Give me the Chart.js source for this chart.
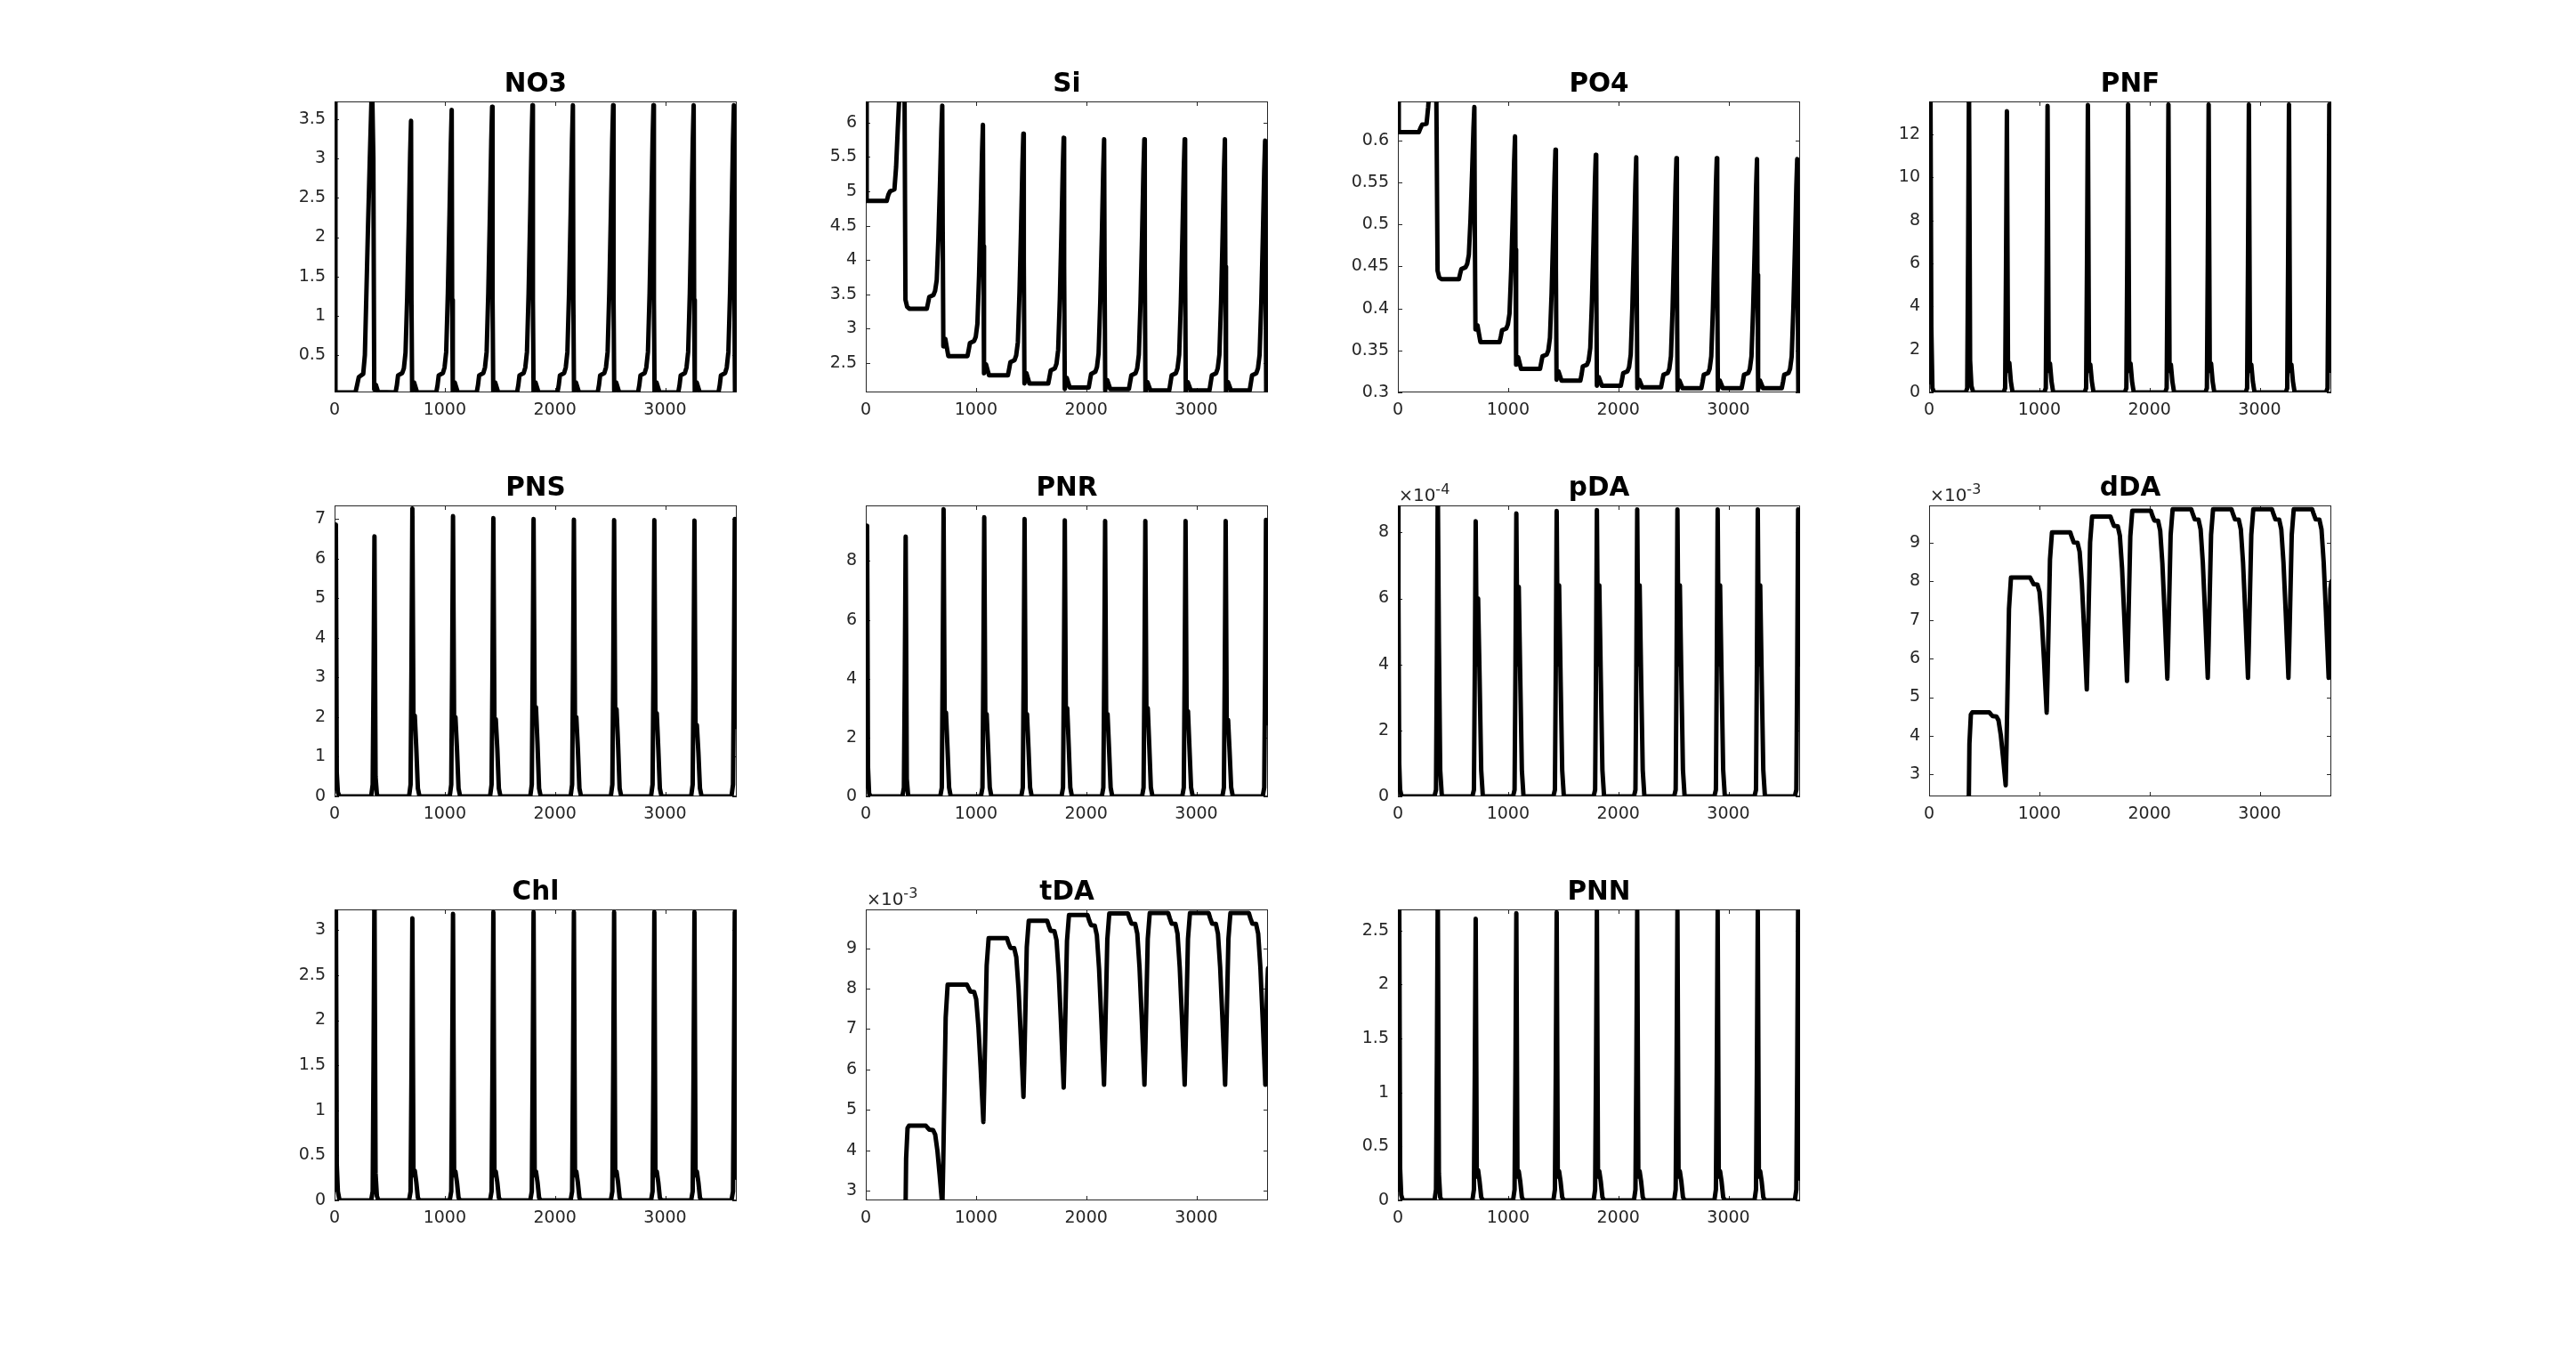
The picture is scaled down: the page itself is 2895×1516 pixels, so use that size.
<!DOCTYPE html>
<html><head><meta charset="utf-8">
<script src="https://cdn.jsdelivr.net/npm/chart.js@4.4.1/dist/chart.umd.min.js"></script>
<style>
html,body{margin:0;padding:0;background:#fff;}
body{width:2895px;height:1516px;position:relative;overflow:hidden;}
canvas{position:absolute;}
</style></head><body>
<script>
// ---------------- DATA ----------------
const xTicks = [0, 1000, 2000, 3000];
const X_MAX = 3650;

// time points (days) for the nutrient panels
const tNut = [
 0, 8, 190, 205, 220, 260, 275, 290, 303, 320, 340, 346, 352, 360, 375, 395,
 554, 566, 576, 614, 629, 644, 659, 674, 686, 694, 698, 704, 712, 722, 749,
 923, 935, 945, 983, 998, 1013, 1028, 1043, 1055, 1063, 1067, 1073, 1081, 1091, 1118,
 1290, 1302, 1312, 1350, 1365, 1380, 1395, 1410, 1422, 1430, 1434, 1440, 1448, 1458, 1485,
 1656, 1668, 1678, 1716, 1731, 1746, 1761, 1776, 1788, 1796, 1800, 1806, 1814, 1824, 1851,
 2023, 2035, 2045, 2083, 2098, 2113, 2128, 2143, 2155, 2163, 2167, 2173, 2181, 2191, 2218,
 2388, 2400, 2410, 2448, 2463, 2478, 2493, 2508, 2520, 2528, 2532, 2538, 2546, 2556, 2583,
 2754, 2766, 2776, 2814, 2829, 2844, 2859, 2874, 2886, 2894, 2898, 2904, 2912, 2922, 2949,
 3119, 3131, 3141, 3179, 3194, 3209, 3224, 3239, 3251, 3259, 3263, 3269, 3277, 3287, 3314,
 3484, 3496, 3506, 3544, 3559, 3574, 3589, 3604, 3616, 3624, 3628, 3634, 3642, 3650
];
const NO3 = [
 3.8, 0.025, 0.025, 0.12, 0.22, 0.26, 0.5, 1.35, 2.1, 3.0, 4.0, 4.0, 3.0, 0.06, 0.12, 0.03,
 0.025, 0.12, 0.24, 0.27, 0.33, 0.53, 1.23, 2.20, 3.06, 3.48, 1.2, 0.04, 0.1, 0.15, 0.025,
 0.025, 0.12, 0.24, 0.27, 0.34, 0.54, 1.28, 2.28, 3.18, 3.62, 1.2, 0.04, 0.1, 0.15, 0.025,
 0.025, 0.12, 0.24, 0.27, 0.34, 0.54, 1.29, 2.30, 3.22, 3.66, 1.2, 0.04, 0.1, 0.15, 0.025,
 0.025, 0.12, 0.24, 0.27, 0.34, 0.54, 1.29, 2.32, 3.24, 3.68, 1.2, 0.04, 0.1, 0.15, 0.025,
 0.025, 0.12, 0.24, 0.27, 0.34, 0.54, 1.29, 2.32, 3.24, 3.68, 1.2, 0.04, 0.1, 0.15, 0.025,
 0.025, 0.12, 0.24, 0.27, 0.34, 0.54, 1.29, 2.32, 3.24, 3.68, 1.2, 0.04, 0.1, 0.15, 0.025,
 0.025, 0.12, 0.24, 0.27, 0.34, 0.54, 1.29, 2.32, 3.24, 3.68, 1.2, 0.04, 0.1, 0.15, 0.025,
 0.025, 0.12, 0.24, 0.27, 0.34, 0.54, 1.29, 2.32, 3.24, 3.68, 1.2, 0.04, 0.1, 0.15, 0.025,
 0.025, 0.12, 0.24, 0.27, 0.34, 0.54, 1.29, 2.32, 3.24, 3.68, 1.2, 0.04, 0.1, 0.15
];
const Si = [
 6.5, 4.86, 4.86, 4.95, 5.0, 5.03, 5.35, 5.9, 6.35, 7.2, 7.6, 7.3, 6.3, 3.42, 3.32, 3.29,
 3.29, 3.38, 3.46, 3.49, 3.55, 3.71, 4.32, 5.15, 5.89, 6.25, 4.5, 2.74, 2.8, 2.85, 2.6,
 2.6, 2.7, 2.79, 2.82, 2.88, 3.07, 3.77, 4.71, 5.56, 5.97, 4.2, 2.35, 2.42, 2.48, 2.32,
 2.32, 2.42, 2.51, 2.54, 2.61, 2.80, 3.53, 4.52, 5.41, 5.84, 4.0, 2.2, 2.28, 2.35, 2.2,
 2.2, 2.3, 2.39, 2.42, 2.49, 2.69, 3.43, 4.44, 5.34, 5.78, 3.9, 2.12, 2.2, 2.28, 2.14,
 2.14, 2.25, 2.34, 2.37, 2.44, 2.64, 3.39, 4.40, 5.32, 5.76, 3.9, 2.1, 2.18, 2.25, 2.12,
 2.12, 2.23, 2.32, 2.35, 2.42, 2.62, 3.37, 4.40, 5.32, 5.76, 3.9, 2.08, 2.15, 2.22, 2.1,
 2.1, 2.22, 2.32, 2.35, 2.42, 2.62, 3.37, 4.40, 5.32, 5.76, 3.9, 2.08, 2.15, 2.22, 2.1,
 2.1, 2.22, 2.32, 2.35, 2.42, 2.62, 3.37, 4.40, 5.32, 5.76, 3.9, 2.08, 2.15, 2.22, 2.1,
 2.1, 2.22, 2.32, 2.35, 2.42, 2.62, 3.36, 4.38, 5.30, 5.74, 3.9, 2.06, 2.14, 2.22
];
const PO4 = [
 0.66, 0.61, 0.61, 0.615, 0.619, 0.62, 0.64, 0.67, 0.69, 0.72, 0.74, 0.7, 0.6, 0.445, 0.437, 0.435,
 0.435, 0.442, 0.447, 0.449, 0.453, 0.464, 0.506, 0.564, 0.615, 0.640, 0.5, 0.375, 0.378, 0.38, 0.36,
 0.36, 0.367, 0.374, 0.376, 0.381, 0.394, 0.445, 0.513, 0.575, 0.605, 0.47, 0.333, 0.338, 0.342, 0.328,
 0.328, 0.336, 0.343, 0.345, 0.350, 0.365, 0.418, 0.491, 0.557, 0.589, 0.45, 0.315, 0.32, 0.325, 0.314,
 0.314, 0.322, 0.331, 0.333, 0.338, 0.353, 0.408, 0.483, 0.551, 0.583, 0.45, 0.308, 0.313, 0.318, 0.308,
 0.308, 0.316, 0.323, 0.325, 0.330, 0.345, 0.402, 0.478, 0.547, 0.580, 0.44, 0.305, 0.31, 0.315, 0.306,
 0.306, 0.314, 0.321, 0.323, 0.328, 0.343, 0.400, 0.477, 0.546, 0.579, 0.44, 0.303, 0.309, 0.314, 0.305,
 0.305, 0.313, 0.321, 0.323, 0.328, 0.343, 0.400, 0.477, 0.546, 0.579, 0.44, 0.303, 0.309, 0.314, 0.305,
 0.305, 0.313, 0.321, 0.323, 0.328, 0.343, 0.400, 0.476, 0.545, 0.578, 0.44, 0.303, 0.309, 0.314, 0.305,
 0.305, 0.313, 0.321, 0.323, 0.328, 0.343, 0.400, 0.476, 0.545, 0.578, 0.44, 0.299, 0.306, 0.314
];

// time points (days) for the plankton / particulate panels
const tBloom = [
 0, 5, 12, 20, 30, 45,
 332, 346, 354, 362, 372, 384, 398, 412, 427,
 676, 690, 698, 706, 716, 728, 742, 756, 771,
 1045, 1059, 1067, 1075, 1085, 1097, 1111, 1125, 1140,
 1411, 1425, 1433, 1441, 1451, 1463, 1477, 1491, 1506,
 1776, 1790, 1798, 1806, 1816, 1828, 1842, 1856, 1871,
 2142, 2156, 2164, 2172, 2182, 2194, 2208, 2222, 2237,
 2507, 2521, 2529, 2537, 2547, 2559, 2573, 2587, 2602,
 2872, 2886, 2894, 2902, 2912, 2924, 2938, 2952, 2967,
 3236, 3250, 3258, 3266, 3276, 3288, 3302, 3316, 3331,
 3602, 3616, 3624, 3632, 3642, 3650
];
const PNF = [
 0.48, 8, 14.5, 3, 0.2, 0,
 0, 0.2, 6.5, 14.5, 1.5, 0.3, 0.05, 0, 0,
 0, 0.2, 5.9, 13.08, 1.0, 1.38, 0.5, 0.05, 0,
 0, 0.2, 6.0, 13.33, 1.0, 1.35, 0.5, 0.05, 0,
 0, 0.2, 6.0, 13.37, 1.0, 1.3, 0.5, 0.05, 0,
 0, 0.2, 6.0, 13.4, 1.0, 1.35, 0.5, 0.05, 0,
 0, 0.2, 6.0, 13.4, 1.0, 1.3, 0.5, 0.05, 0,
 0, 0.2, 6.0, 13.4, 1.0, 1.35, 0.5, 0.05, 0,
 0, 0.2, 6.0, 13.4, 1.0, 1.3, 0.5, 0.05, 0,
 0, 0.2, 6.0, 13.4, 1.0, 1.3, 0.5, 0.05, 0,
 0, 0.2, 6.0, 13.4, 3.0, 1.0
];
const PNS = [
 0.21, 3.5, 6.86, 0.6, 0.1, 0,
 0, 0.3, 3.0, 6.56, 0.5, 0.05, 0, 0, 0,
 0, 0.3, 3.3, 7.26, 1.8, 2.04, 1.2, 0.2, 0,
 0, 0.3, 3.2, 7.07, 1.8, 2.0, 1.2, 0.2, 0,
 0, 0.3, 3.15, 7.02, 1.7, 1.95, 1.2, 0.2, 0,
 0, 0.3, 3.15, 7.0, 2.0, 2.25, 1.3, 0.2, 0,
 0, 0.3, 3.15, 6.98, 1.8, 2.0, 1.2, 0.2, 0,
 0, 0.3, 3.15, 6.97, 1.9, 2.2, 1.3, 0.2, 0,
 0, 0.3, 3.15, 6.97, 1.8, 2.1, 1.2, 0.2, 0,
 0, 0.3, 3.15, 6.96, 1.6, 1.8, 1.1, 0.2, 0,
 0, 0.3, 3.15, 7.0, 3.5, 1.75
];
const PNR = [
 0.35, 5, 9.2, 1.0, 0.1, 0,
 0, 0.3, 4.0, 8.83, 0.6, 0.05, 0, 0, 0,
 0, 0.3, 4.4, 9.76, 2.4, 2.85, 1.6, 0.3, 0,
 0, 0.3, 4.3, 9.49, 2.4, 2.8, 1.6, 0.3, 0,
 0, 0.3, 4.2, 9.43, 2.4, 2.8, 1.6, 0.3, 0,
 0, 0.3, 4.2, 9.38, 2.6, 3.0, 1.7, 0.3, 0,
 0, 0.3, 4.2, 9.36, 2.4, 2.8, 1.6, 0.3, 0,
 0, 0.3, 4.2, 9.36, 2.6, 3.0, 1.7, 0.3, 0,
 0, 0.3, 4.2, 9.36, 2.5, 2.9, 1.6, 0.3, 0,
 0, 0.3, 4.2, 9.36, 2.2, 2.6, 1.5, 0.3, 0,
 0, 0.3, 4.2, 9.4, 4.5, 2.48
];
// pDA in units of 1e-4
const pDA = [
 9.5, 6, 1.0, 0.2, 0.05, 0,
 0, 0.2, 4.3, 9.5, 4.7, 0.8, 0.05, 0, 0,
 0, 0.2, 3.8, 8.34, 4.0, 6.0, 3.5, 0.8, 0,
 0, 0.2, 3.9, 8.58, 4.0, 6.35, 3.5, 0.8, 0,
 0, 0.2, 3.9, 8.65, 4.0, 6.4, 3.5, 0.8, 0,
 0, 0.2, 3.9, 8.68, 4.0, 6.4, 3.5, 0.8, 0,
 0, 0.2, 3.9, 8.7, 4.0, 6.4, 3.5, 0.8, 0,
 0, 0.2, 3.9, 8.7, 4.0, 6.4, 3.5, 0.8, 0,
 0, 0.2, 3.9, 8.7, 4.0, 6.4, 3.5, 0.8, 0,
 0, 0.2, 3.9, 8.7, 4.0, 6.4, 3.5, 0.8, 0,
 0, 0.2, 3.9, 8.7, 4.0, 5.3
];
const Chl = [
 0.12, 2.0, 3.5, 0.4, 0.1, 0,
 0, 0.1, 1.6, 3.5, 0.3, 0.05, 0, 0, 0,
 0, 0.1, 1.4, 3.13, 0.28, 0.33, 0.2, 0.03, 0,
 0, 0.1, 1.45, 3.18, 0.28, 0.32, 0.2, 0.03, 0,
 0, 0.1, 1.45, 3.2, 0.28, 0.32, 0.2, 0.03, 0,
 0, 0.1, 1.45, 3.2, 0.28, 0.32, 0.2, 0.03, 0,
 0, 0.1, 1.45, 3.2, 0.28, 0.32, 0.2, 0.03, 0,
 0, 0.1, 1.45, 3.2, 0.28, 0.32, 0.2, 0.03, 0,
 0, 0.1, 1.45, 3.2, 0.28, 0.32, 0.2, 0.03, 0,
 0, 0.1, 1.45, 3.2, 0.28, 0.32, 0.2, 0.03, 0,
 0, 0.1, 1.45, 3.2, 1.0, 0.25
];
const PNN = [
 0.1, 1.5, 2.9, 0.3, 0.05, 0,
 0, 0.1, 1.3, 2.9, 0.25, 0.03, 0, 0, 0,
 0, 0.1, 1.17, 2.61, 0.22, 0.28, 0.17, 0.03, 0,
 0, 0.1, 1.2, 2.66, 0.22, 0.27, 0.17, 0.03, 0,
 0, 0.1, 1.2, 2.67, 0.22, 0.27, 0.17, 0.03, 0,
 0, 0.1, 1.2, 2.68, 0.22, 0.27, 0.17, 0.03, 0,
 0, 0.1, 1.2, 2.68, 0.22, 0.27, 0.17, 0.03, 0,
 0, 0.1, 1.2, 2.68, 0.22, 0.27, 0.17, 0.03, 0,
 0, 0.1, 1.2, 2.68, 0.22, 0.27, 0.17, 0.03, 0,
 0, 0.1, 1.2, 2.68, 0.22, 0.27, 0.17, 0.03, 0,
 0, 0.1, 1.2, 2.68, 0.8, 0.2
];

// time points (days) for the dissolved / total domoic acid panels
const tTox = [
 0, 355, 366, 379, 392,
 545, 560, 577, 611, 630, 650, 670, 685, 695, 703, 713, 725, 743,
 917, 932, 949, 983, 1002, 1022, 1042, 1057, 1067, 1075, 1085, 1097, 1115,
 1281, 1296, 1313, 1347, 1366, 1386, 1406, 1421, 1431, 1439, 1449, 1461, 1479,
 1646, 1661, 1678, 1712, 1731, 1751, 1771, 1786, 1796, 1804, 1814, 1826, 1844,
 2012, 2027, 2044, 2078, 2097, 2117, 2137, 2152, 2162, 2170, 2180, 2192, 2210,
 2379, 2394, 2411, 2445, 2464, 2484, 2504, 2519, 2529, 2537, 2547, 2559, 2577,
 2744, 2759, 2776, 2810, 2829, 2849, 2869, 2884, 2894, 2902, 2912, 2924, 2942,
 3111, 3126, 3143, 3177, 3196, 3216, 3236, 3251, 3261, 3269, 3279, 3291, 3309,
 3476, 3491, 3508, 3542, 3561, 3581, 3601, 3616, 3626, 3634, 3642, 3650
];
// dDA and tDA in units of 1e-3
const dDA = [
 0, 1.0, 3.8, 4.55, 4.61,
 4.61, 4.56, 4.51, 4.50, 4.40, 4.03, 3.47, 3.02, 2.72, 3.80, 5.41, 7.29, 8.1,
 8.1, 8.02, 7.93, 7.92, 7.73, 7.03, 6.0, 5.17, 4.6, 5.53, 6.94, 8.57, 9.27,
 9.27, 9.14, 9.01, 9.0, 8.77, 7.97, 6.80, 5.85, 5.2, 6.10, 7.44, 9.01, 9.68,
 9.68, 9.56, 9.44, 9.43, 9.19, 8.35, 7.10, 6.10, 5.42, 6.30, 7.63, 9.17, 9.83,
 9.83, 9.7, 9.58, 9.57, 9.32, 8.47, 7.20, 6.18, 5.48, 6.36, 7.68, 9.21, 9.87,
 9.87, 9.74, 9.61, 9.6, 9.35, 8.49, 7.22, 6.20, 5.5, 6.37, 7.69, 9.21, 9.87,
 9.87, 9.74, 9.61, 9.6, 9.35, 8.49, 7.22, 6.20, 5.5, 6.37, 7.69, 9.21, 9.87,
 9.87, 9.74, 9.61, 9.6, 9.35, 8.49, 7.22, 6.20, 5.5, 6.37, 7.69, 9.21, 9.87,
 9.87, 9.74, 9.61, 9.6, 9.35, 8.49, 7.22, 6.20, 5.5, 6.6, 7.8, 8.0
];
const tDA = [
 0, 1.0, 3.8, 4.55, 4.61,
 4.61, 4.56, 4.51, 4.50, 4.39, 3.99, 3.40, 2.92, 2.6, 3.70, 5.35, 7.28, 8.1,
 8.1, 8.02, 7.93, 7.92, 7.74, 7.06, 6.06, 5.25, 4.7, 5.61, 6.98, 8.57, 9.25,
 9.25, 9.12, 9.01, 9.0, 8.78, 8.01, 6.87, 5.95, 5.32, 6.19, 7.50, 9.03, 9.68,
 9.68, 9.55, 9.43, 9.42, 9.20, 8.38, 7.18, 6.21, 5.55, 6.40, 7.69, 9.18, 9.82,
 9.82, 9.69, 9.57, 9.56, 9.32, 8.50, 7.27, 6.29, 5.62, 6.47, 7.74, 9.22, 9.86,
 9.86, 9.73, 9.61, 9.6, 9.36, 8.53, 7.29, 6.30, 5.62, 6.47, 7.75, 9.23, 9.87,
 9.87, 9.74, 9.61, 9.6, 9.36, 8.53, 7.29, 6.30, 5.62, 6.47, 7.75, 9.23, 9.87,
 9.87, 9.74, 9.61, 9.6, 9.36, 8.53, 7.29, 6.30, 5.62, 6.47, 7.75, 9.23, 9.87,
 9.87, 9.74, 9.61, 9.6, 9.36, 8.53, 7.29, 6.30, 5.62, 6.9, 8.0, 8.5
];

// y tick labels per panel
const NO3_ticks = [0.5, 1, 1.5, 2, 2.5, 3, 3.5];
const Si_ticks  = [2.5, 3, 3.5, 4, 4.5, 5, 5.5, 6];
const PO4_ticks = [0.3, 0.35, 0.4, 0.45, 0.5, 0.55, 0.6];
const PNF_ticks = [0, 2, 4, 6, 8, 10, 12];
const PNS_ticks = [0, 1, 2, 3, 4, 5, 6, 7];
const PNR_ticks = [0, 2, 4, 6, 8];
const pDA_ticks = [0, 2, 4, 6, 8];
const dDA_ticks = [3, 4, 5, 6, 7, 8, 9];
const Chl_ticks = [0, 0.5, 1, 1.5, 2, 2.5, 3];
const tDA_ticks = [3, 4, 5, 6, 7, 8, 9];
const PNN_ticks = [0, 0.5, 1, 1.5, 2, 2.5];

// ---------------- LAYOUT ----------------
const FONT = '"DejaVu Sans", "Liberation Sans", sans-serif';
const AX_COLOR = '#262626';
const COL_LEFT = [376, 973, 1571, 2168];
const ROW_TOP = [114, 568, 1022];
const BOX_W = 452, BOX_H = 327;
const PADL = 110, PADR = 20, PADT = 70, XAXIS_H = 60;

const panels = [
  {title:'NO3', col:0, row:0, t:tNut, v:NO3, min:0.024, max:3.727, ticks:NO3_ticks},
  {title:'Si',  col:1, row:0, t:tNut, v:Si,  min:2.07,  max:6.31,  ticks:Si_ticks},
  {title:'PO4', col:2, row:0, t:tNut, v:PO4, min:0.30,  max:0.6466, ticks:PO4_ticks},
  {title:'PNF', col:3, row:0, t:tBloom, v:PNF, min:0, max:13.54, ticks:PNF_ticks},
  {title:'PNS', col:0, row:1, t:tBloom, v:PNS, min:0, max:7.34, ticks:PNS_ticks},
  {title:'PNR', col:1, row:1, t:tBloom, v:PNR, min:0, max:9.89, ticks:PNR_ticks},
  {title:'pDA', col:2, row:1, t:tBloom, v:pDA, min:0, max:8.82, ticks:pDA_ticks, exp:'-4'},
  {title:'dDA', col:3, row:1, t:tTox, v:dDA, min:2.43, max:9.97, ticks:dDA_ticks, exp:'-3'},
  {title:'Chl', col:0, row:2, t:tBloom, v:Chl, min:0, max:3.23, ticks:Chl_ticks},
  {title:'tDA', col:1, row:2, t:tTox, v:tDA, min:2.76, max:9.96, ticks:tDA_ticks, exp:'-3'},
  {title:'PNN', col:2, row:2, t:tBloom, v:PNN, min:0, max:2.696, ticks:PNN_ticks}
];

const fmt = v => String(+Number(v).toFixed(4));

const matlabAxes = {
  id: 'matlabAxes',
  beforeDatasetsDraw(chart) {
    const {ctx, chartArea: a, scales: {x, y}} = chart;
    ctx.save();
    ctx.strokeStyle = AX_COLOR;
    ctx.lineWidth = 1;
    ctx.strokeRect(a.left + 0.5, a.top + 0.5, a.right - a.left - 1, a.bottom - a.top - 1);
    const TL = 5;
    ctx.beginPath();
    x.ticks.forEach(t => {
      const px = Math.round(x.getPixelForValue(t.value)) + 0.5;
      ctx.moveTo(px, a.bottom); ctx.lineTo(px, a.bottom - TL);
      ctx.moveTo(px, a.top); ctx.lineTo(px, a.top + TL);
    });
    y.ticks.forEach(t => {
      const py = Math.round(y.getPixelForValue(t.value)) + 0.5;
      ctx.moveTo(a.left, py); ctx.lineTo(a.left + TL, py);
      ctx.moveTo(a.right, py); ctx.lineTo(a.right - TL, py);
    });
    ctx.stroke();
    ctx.restore();
  },
  afterDraw(chart) {
    const {ctx, chartArea: a} = chart;
    const p = chart.options.plugins.matlabAxes;
    ctx.save();
    ctx.fillStyle = '#000';
    ctx.font = 'bold 29.5px ' + FONT;
    ctx.textAlign = 'center';
    ctx.textBaseline = 'alphabetic';
    ctx.fillText(p.title, (a.left + a.right) / 2, a.top - 11);
    if (p.exp) {
      ctx.fillStyle = AX_COLOR;
      ctx.textAlign = 'left';
      let xx = a.left + 1;
      const base = a.top - 5;
      ctx.font = '19px ' + FONT;
      ctx.fillText('\u00d7', xx, base);
      xx += ctx.measureText('\u00d7').width;
      ctx.font = '20px ' + FONT;
      ctx.fillText('10', xx, base);
      xx += ctx.measureText('10').width;
      ctx.font = '16px ' + FONT;
      ctx.fillText(p.exp, xx, base - 8);
    }
    ctx.restore();
  }
};

panels.forEach(p => {
  const cv = document.createElement('canvas');
  const w = PADL + BOX_W + PADR, h = PADT + BOX_H + XAXIS_H;
  cv.width = w; cv.height = h;
  cv.style.width = w + 'px'; cv.style.height = h + 'px';
  cv.style.left = (COL_LEFT[p.col] - PADL) + 'px';
  cv.style.top = (ROW_TOP[p.row] - PADT) + 'px';
  document.body.appendChild(cv);
  const pts = p.t.map((tv, i) => ({x: tv, y: p.v[i]}));
  const tickFont = {family: FONT, size: 19};
  new Chart(cv, {
    type: 'line',
    data: {datasets: [{
      data: pts, borderColor: '#000', borderWidth: 5, pointRadius: 0,
      borderJoinStyle: 'round', borderCapStyle: 'round', tension: 0, fill: false, clip: 0
    }]},
    options: {
      responsive: false, animation: false, devicePixelRatio: 1, events: [],
      layout: {padding: {left: 0, right: PADR, top: PADT, bottom: 0}},
      plugins: {
        legend: {display: false}, tooltip: {enabled: false}, title: {display: false},
        matlabAxes: {title: p.title, exp: p.exp}
      },
      scales: {
        x: {
          type: 'linear', min: 0, max: X_MAX, bounds: 'data',
          afterBuildTicks: s => { s.ticks = xTicks.map(v => ({value: v})); },
          afterFit: s => { s.height = XAXIS_H; },
          grid: {display: false, drawTicks: false}, border: {display: false},
          ticks: {color: AX_COLOR, font: tickFont, padding: 9, maxRotation: 0, minRotation: 0,
                  autoSkip: false, callback: v => fmt(v)}
        },
        y: {
          type: 'linear', min: p.min, max: p.max, bounds: 'data',
          afterBuildTicks: s => { s.ticks = p.ticks.map(v => ({value: v})); },
          afterFit: s => { s.width = PADL; },
          grid: {display: false, drawTicks: false}, border: {display: false},
          ticks: {color: AX_COLOR, font: tickFont, padding: 10, autoSkip: false, callback: v => fmt(v)}
        }
      }
    },
    plugins: [matlabAxes]
  });
});
</script>
</body></html>
